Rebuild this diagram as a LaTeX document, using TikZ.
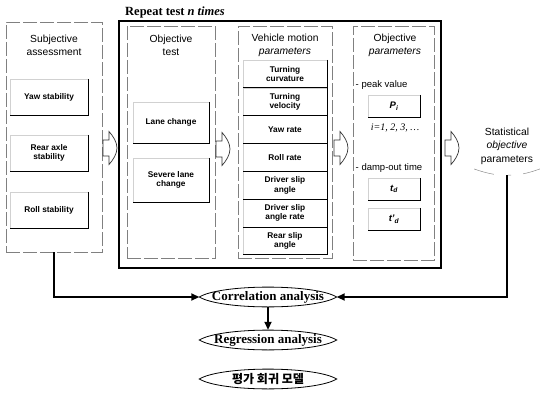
\documentclass[tikz,border=0pt]{standalone}
\usepackage{fontspec}
\setmainfont{Liberation Sans}
\newfontfamily\serifface{Liberation Serif}
\newfontfamily\krface{Noto Sans CJK KR}
\usetikzlibrary{arrows.meta,shapes.geometric,calc}
\tikzset{
  column/.style={draw=black!50, dash pattern=on 14pt off 3pt, line width=0.45pt, inner sep=0pt},
  subbox/.style={draw=black!18, line width=0.4pt, inner sep=0pt, align=center, font=\bfseries\fontsize{8.3}{9.6}\selectfont},
  rbline/.style={line width=1pt, black},
  heading/.style={align=center, font=\fontsize{10.3}{13}\selectfont},
  note/.style={font=\fontsize{9.5}{11}\selectfont, inner sep=0pt},
  symbox/.style={subbox, minimum width=52pt, minimum height=22pt, font=\bfseries\itshape\fontsize{9.5}{11}\selectfont},
  lensnode/.style={minimum width=137pt, minimum height=26pt, inner sep=0pt},
  lensline/.style={line width=0.8pt, black},
  conn/.style={line width=1.8pt, -{Triangle[length=8pt,width=7pt]}},
  blkline/.style={line width=0.7pt, black!80},
  faint/.style={line width=0.5pt, black!45},
  pics/blockarrow/.style={code={
    \draw[blkline] (-7,-8) -- (-1,-8) -- (-1,-16.5) .. controls (3,-12) and (7,-6) .. (7,0) .. controls (7,6) and (3,12) .. (-1,16.5) -- (-1,8) -- (-7,8) -- cycle;}}
}
\begin{document}
\begin{tikzpicture}[x=1pt,y=-1pt]
\useasboundingbox (0,0) rectangle (545,393);

% loop title
\node[font=\serifface\bfseries\fontsize{12.5}{14}\selectfont] (rtitle) at (175,12) {Repeat test \textit{n times}};

% subjective assessment column
\node[column, minimum width=96pt, minimum height=230pt] (subj) at (54,137) {};
\node[heading] (subjh) at (54,45.5) {Subjective\\assessment};
\node[subbox, minimum width=78pt, minimum height=36pt] (yaw) at (49,97) {Yaw stability};
\node[subbox, minimum width=78pt, minimum height=36pt] (rear) at (49,153) {Rear axle\\stability};
\node[subbox, minimum width=78pt, minimum height=36pt] (roll) at (49,210) {Roll stability};

% repeated test block
\node[draw=black, line width=2.2pt, minimum width=322pt, minimum height=247pt, inner sep=0pt] (rep) at (280,144.5) {};

\node[column, minimum width=88pt, minimum height=232pt] (objcol) at (171,142) {};
\node[heading] (objh) at (171,45.5) {Objective\\test};
\node[subbox, minimum width=76pt, minimum height=41pt] (lane) at (171,122.5) {Lane change};
\node[subbox, minimum width=76pt, minimum height=44pt] (severe) at (171,180) {Severe lane\\change};

\node[column, minimum width=94pt, minimum height=232pt] (vehcol) at (285,142) {};
\node[heading] (vehh) at (285,45.5) {Vehicle motion\\\textit{parameters}};
\node[subbox, minimum width=84pt, minimum height=27.8pt] (tc) at (285,73.9) {Turning\\curvature};
\node[subbox, minimum width=84pt, minimum height=27.8pt] (tv) at (285,101.7) {Turning\\velocity};
\node[subbox, minimum width=84pt, minimum height=27.8pt] (yr) at (285,129.5) {Yaw rate};
\node[subbox, minimum width=84pt, minimum height=27.8pt] (rr) at (285,157.3) {Roll rate};
\node[subbox, minimum width=84pt, minimum height=27.8pt] (dsa) at (285,185.1) {Driver slip\\angle};
\node[subbox, minimum width=84pt, minimum height=27.8pt] (dsr) at (285,212.9) {Driver slip\\angle rate};
\node[subbox, minimum width=84pt, minimum height=27.8pt] (rsa) at (285,240.7) {Rear slip\\angle};

\node[column, minimum width=81pt, minimum height=234pt] (parcol) at (393.5,143) {};
\node[heading] (parh) at (395,45.5) {Objective\\\textit{parameters}};
\node[note, anchor=west] (peak) at (355.5,85) {- peak value};
\node[symbox] (pi) at (394,106) {P\textsubscript{i}};
\node[note, font=\serifface\itshape\fontsize{10}{12}\selectfont] (idx) at (395,128) {i=1, 2, 3, \dots};
\node[note, anchor=west] (damp) at (355.5,168) {- damp-out time};
\node[symbox] (td) at (394,189) {t\textsubscript{d}};
\node[symbox] (tdp) at (394,219) {t'\textsubscript{d}};

% darker right and bottom edges of the boxes
\foreach \n in {yaw,rear,roll,lane,severe,tc,tv,yr,rr,dsa,dsr,rsa,pi,td,tdp}
  \draw[rbline] (\n.north east) -- (\n.south east) -- (\n.south west);

% flow arrows between the columns
\pic at (110,148) {blockarrow};
\pic at (223,149) {blockarrow};
\pic at (341,148) {blockarrow};
\pic at (452,148) {blockarrow};

% statistical parameters
\node[ellipse, minimum width=106pt, minimum height=58pt, inner sep=0pt, align=center, font=\fontsize{10.3}{13.5}\selectfont] (stat) at (507,146) {Statistical\\\textit{objective}\\parameters};
\draw[faint] (stat.215) .. controls (stat.225) and (stat.235) .. (stat.245);
\draw[faint] (stat.300) .. controls (stat.308) and (stat.316) .. (stat.325);
\draw[faint] (stat.272) -- (stat.278);

% analysis steps
\node[lensnode, font=\serifface\bfseries\fontsize{13}{15}\selectfont] (corr) at (268,297) {Correlation analysis};
\node[lensnode, font=\serifface\bfseries\fontsize{13}{15}\selectfont] (reg) at (268,340) {Regression analysis};
\node[lensnode, font=\krface\bfseries\fontsize{12}{14}\selectfont] (model) at (268,379) {평가 회귀 모델};
\foreach \n in {corr,reg,model}
  \draw[lensline] (\n.west) .. controls ([xshift=22pt]\n.north west) and ([xshift=-22pt]\n.north east) .. (\n.east) .. controls ([xshift=-22pt]\n.south east) and ([xshift=22pt]\n.south west) .. cycle;

% connectors
\draw[conn] (subj.south) |- (corr.west);
\draw[conn] (stat.south) |- (corr.east);
\draw[conn, shorten <=-3pt, shorten >=-3pt] (corr.south) -- (reg.north);
\end{tikzpicture}
\end{document}
